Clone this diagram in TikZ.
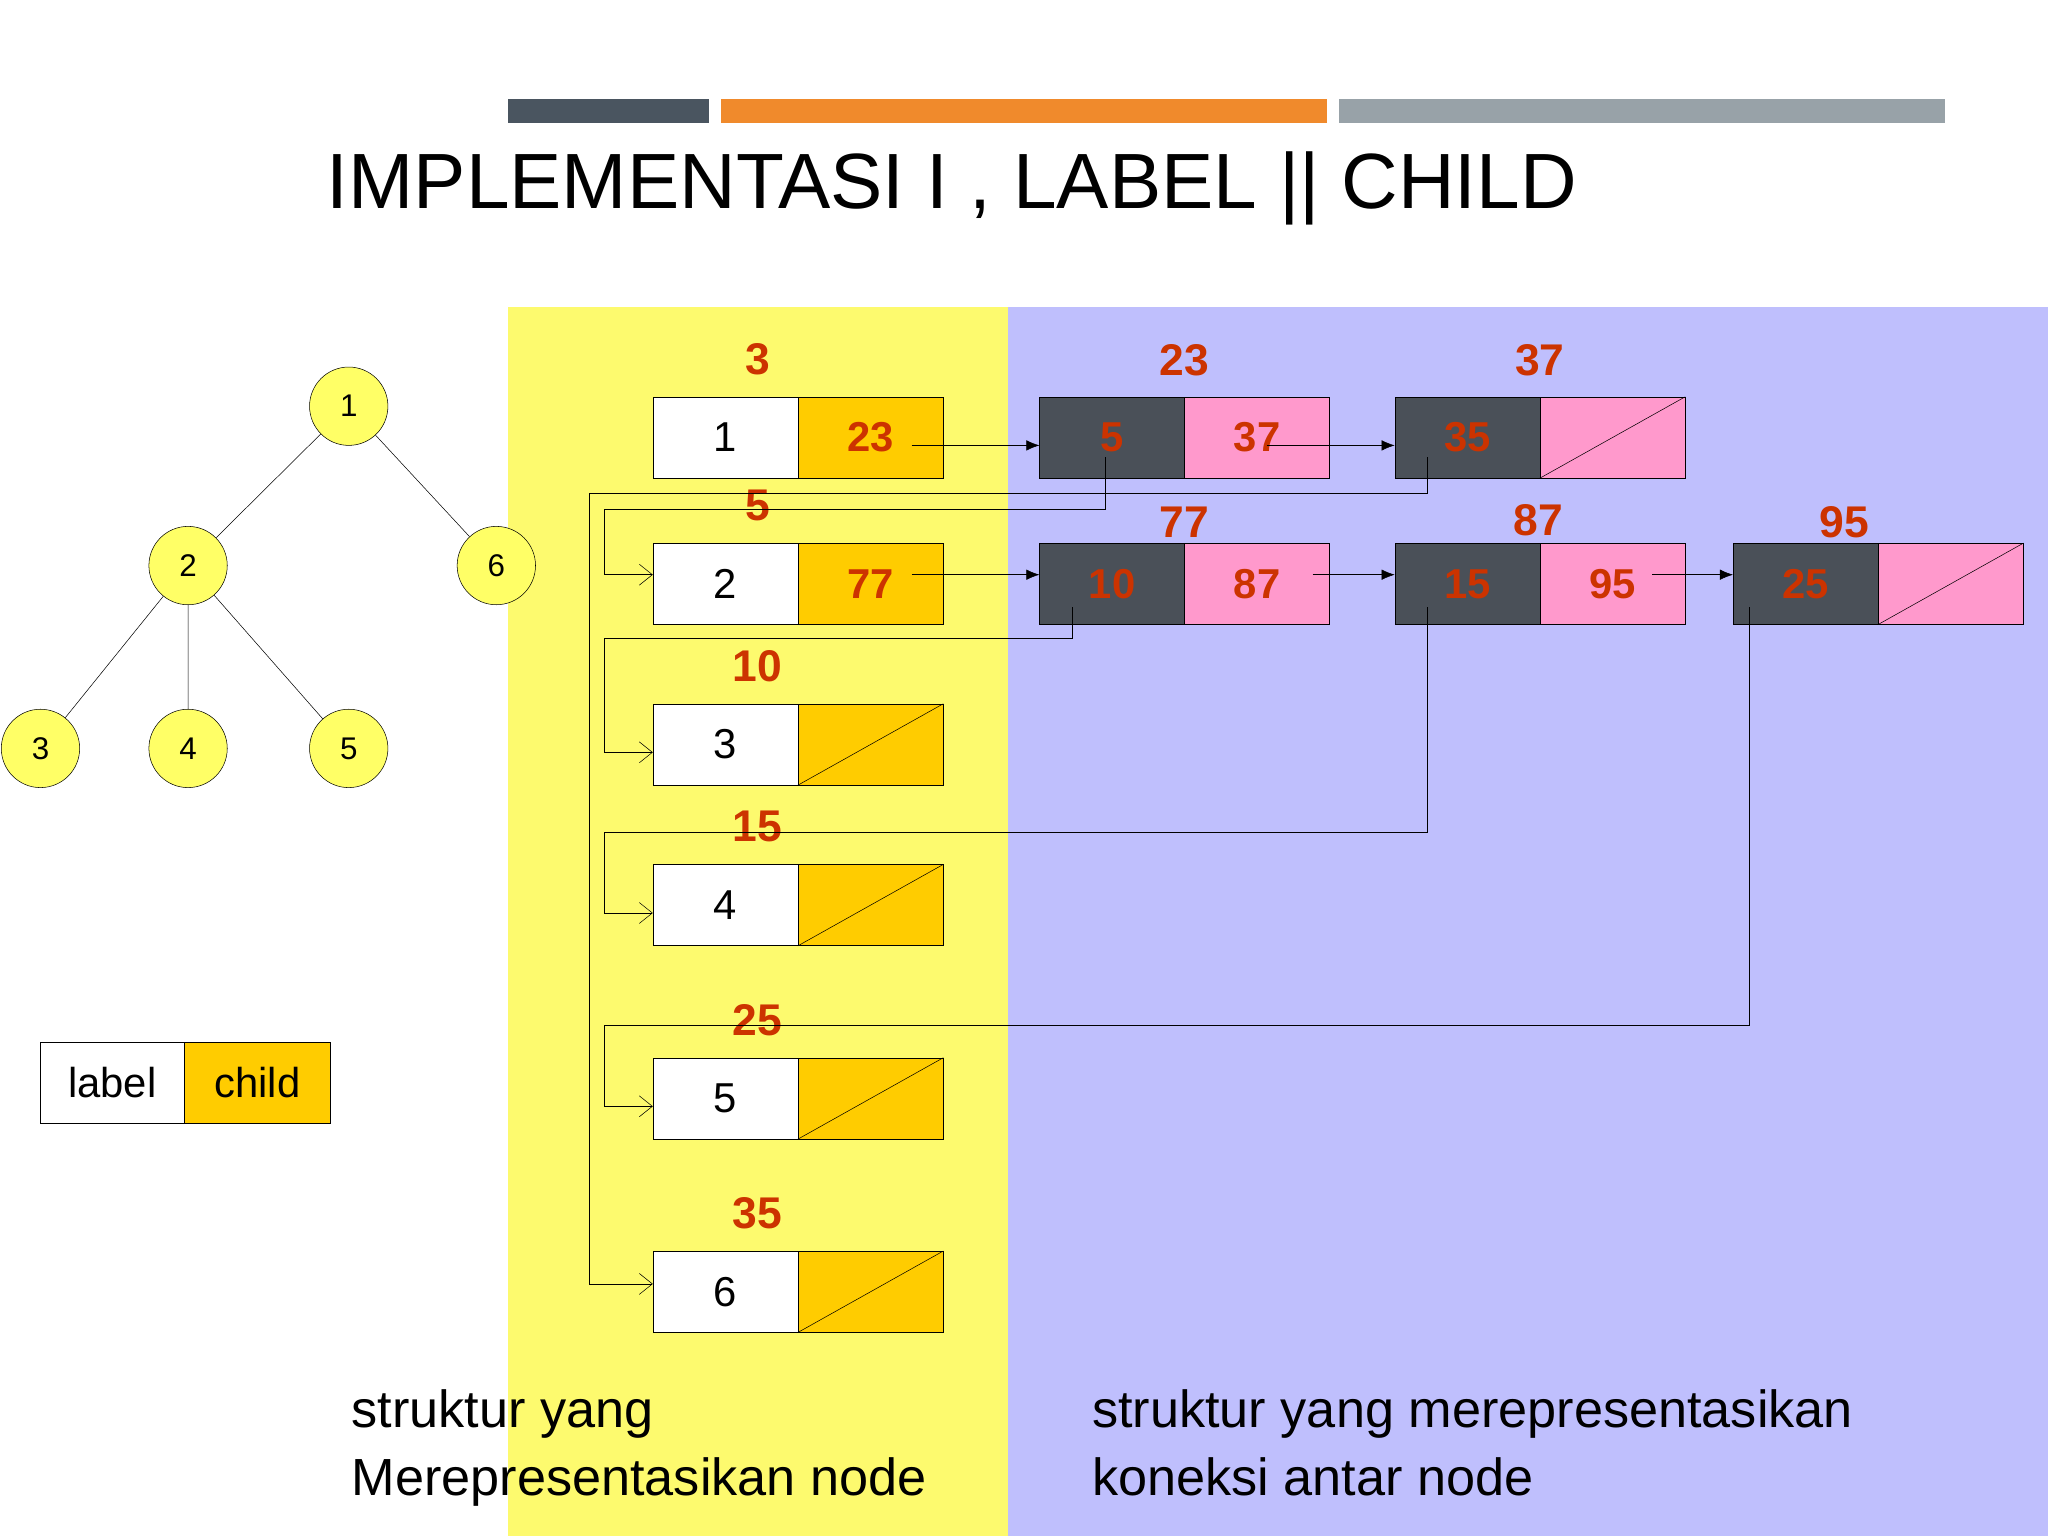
\documentclass[tikz,border=0pt]{standalone}
\usepackage{fontspec}
\setmainfont{Liberation Sans}
\usetikzlibrary{arrows.meta}
\definecolor{ylw}{HTML}{FDFA6E}
\definecolor{prp}{HTML}{BFBFFD}
\definecolor{orn}{HTML}{FFCC00}
\definecolor{pnk}{HTML}{FF99CC}
\definecolor{drk}{HTML}{4A5058}
\definecolor{rd}{HTML}{CC3300}
\definecolor{tcirc}{HTML}{FFFF66}
\definecolor{barA}{HTML}{4A5560}
\definecolor{barB}{HTML}{F08A2C}
\definecolor{barC}{HTML}{98A2A8}
\tikzset{
 cellw/.style={draw,fill=white,minimum width=111pt,minimum height=62pt,inner sep=0,font=\fontsize{32}{36}\selectfont},
 cello/.style={cellw,fill=orn,font=\fontsize{32}{36}\selectfont\bfseries,text=rd},
 cellp/.style={cellw,fill=pnk,font=\fontsize{32}{36}\selectfont\bfseries,text=rd},
 celld/.style={cellw,fill=drk,font=\fontsize{32}{36}\selectfont\bfseries,text=rd},
 rlab/.style={font=\fontsize{34}{38}\selectfont\bfseries,text=rd,inner sep=0},
 tn/.style={circle,draw,fill=tcirc,minimum size=60pt,inner sep=0,font=\fontsize{24}{28}\selectfont},
 hl/.style={-{Latex[length=10pt,width=8pt]}},
 cl/.style={-{Straight Barb[length=10pt,width=16pt]}},
 btxt/.style={font=\fontsize{40}{52}\selectfont,align=left,anchor=north west,inner sep=0}
}
\begin{document}
\begin{tikzpicture}[x=1pt,y=-1pt]
\useasboundingbox (0,0) rectangle (1568,1176);
\fill[white] (0,0) rectangle (1568,1176);
\fill[ylw] (389,235) rectangle (772,1176);
\fill[prp] (772,235) rectangle (1568,1176);
\fill[barA] (389,76) rectangle (543,94);
\fill[barB] (552,76) rectangle (1016,94);
\fill[barC] (1025,76) rectangle (1489,94);
\node[anchor=base west,inner sep=0,font=\fontsize{60}{64}\selectfont] (title) at (250,160) {IMPLEMENTASI I , LABEL || CHILD};
% tree
\node[tn] (t1) at (267,311) {1};
\node[tn] (t2) at (144,433) {2};
\node[tn] (t6) at (380,433) {6};
\node[tn] (t3) at (31,573) {3};
\node[tn] (t4) at (144,573) {4};
\node[tn] (t5) at (267,573) {5};
\draw (t1)--(t2) (t1)--(t6) (t2)--(t3) (t2)--(t4) (t2)--(t5);
% legend
\node[cellw,minimum width=110pt] (lg1) at (86,829) {label};
\node[cellw,fill=orn,minimum width=112pt] (lg2) at (197,829) {child};
% left nodes
\foreach \n/\y/\lab in {1/335/3,2/447/5,3/570/10,4/693/15,5/841/25,6/989/35}{
 \node[cellw] (L\n) at (555.5,\y) {\n};
 \node[rlab] (R\n) at (580,\y-60) {\lab};
}
\node[cello] (C1) at (666.5,335) {23};
\node[cello] (C2) at (666.5,447) {77};
\foreach \n/\y in {3/570,4/693,5/841,6/989}{
 \node[cellw,fill=orn] (C\n) at (666.5,\y) {};
 \draw (C\n.south west)--(C\n.north east);
}
% right lists
\node[celld] (a1) at (851.5,335) {5};
\node[cellp] (a2) at (962.5,335) {37};
\node[celld] (b1) at (1123.5,335) {35};
\node[cellp] (b2) at (1234.5,335) {};
\draw (b2.south west)--(b2.north east);
\node[rlab] (la) at (907,276) {23};
\node[rlab] (lb) at (1179,276) {37};
\node[celld] (c1) at (851.5,447) {10};
\node[cellp] (c2) at (962.5,447) {87};
\node[celld] (d1) at (1123.5,447) {15};
\node[cellp] (d2) at (1234.5,447) {95};
\node[celld] (e1) at (1382.5,447) {25};
\node[cellp] (e2) at (1493.5,447) {};
\draw (e2.south west)--(e2.north east);
\node[rlab] (lc) at (907,400) {77};
\node[rlab] (ld) at (1178,398) {87};
\node[rlab] (le) at (1412,400) {95};
% horizontal pointers
\coordinate (p1) at (698,341); \draw[hl] (p1)--(a1.west|-p1);
\coordinate (p2) at (970,341); \draw[hl] (p2)--(b1.west|-p2);
\coordinate (p3) at (698,440); \draw[hl] (p3)--(c1.west|-p3);
\coordinate (p4) at (1005,440); \draw[hl] (p4)--(d1.west|-p4);
\coordinate (p5) at (1265,440); \draw[hl] (p5)--(e1.west|-p5);
% child connectors
\coordinate (s1) at (846,350); \draw[cl] (s1)--(846,390)--(463,390)--(463,440)--(L2.west|-0,440);
\coordinate (s2) at (1093,350); \draw[cl] (s2)--(1093,378)--(451,378)--(451,983)--(L6.west|-0,983);
\coordinate (s3) at (821,465); \draw[cl] (s3)--(821,489)--(463,489)--(463,576)--(L3.west|-0,576);
\coordinate (s4) at (1093,465); \draw[cl] (s4)--(1093,637)--(463,637)--(463,699)--(L4.west|-0,699);
\coordinate (s5) at (1339,465); \draw[cl] (s5)--(1339,785)--(463,785)--(463,847)--(L5.west|-0,847);
% bottom texts
\node[btxt] (bt1) at (269,1064) {struktur yang\\Merepresentasikan node};
\node[btxt] (bt2) at (836,1064) {struktur yang merepresentasikan\\koneksi antar node};
\end{tikzpicture}
\end{document}
